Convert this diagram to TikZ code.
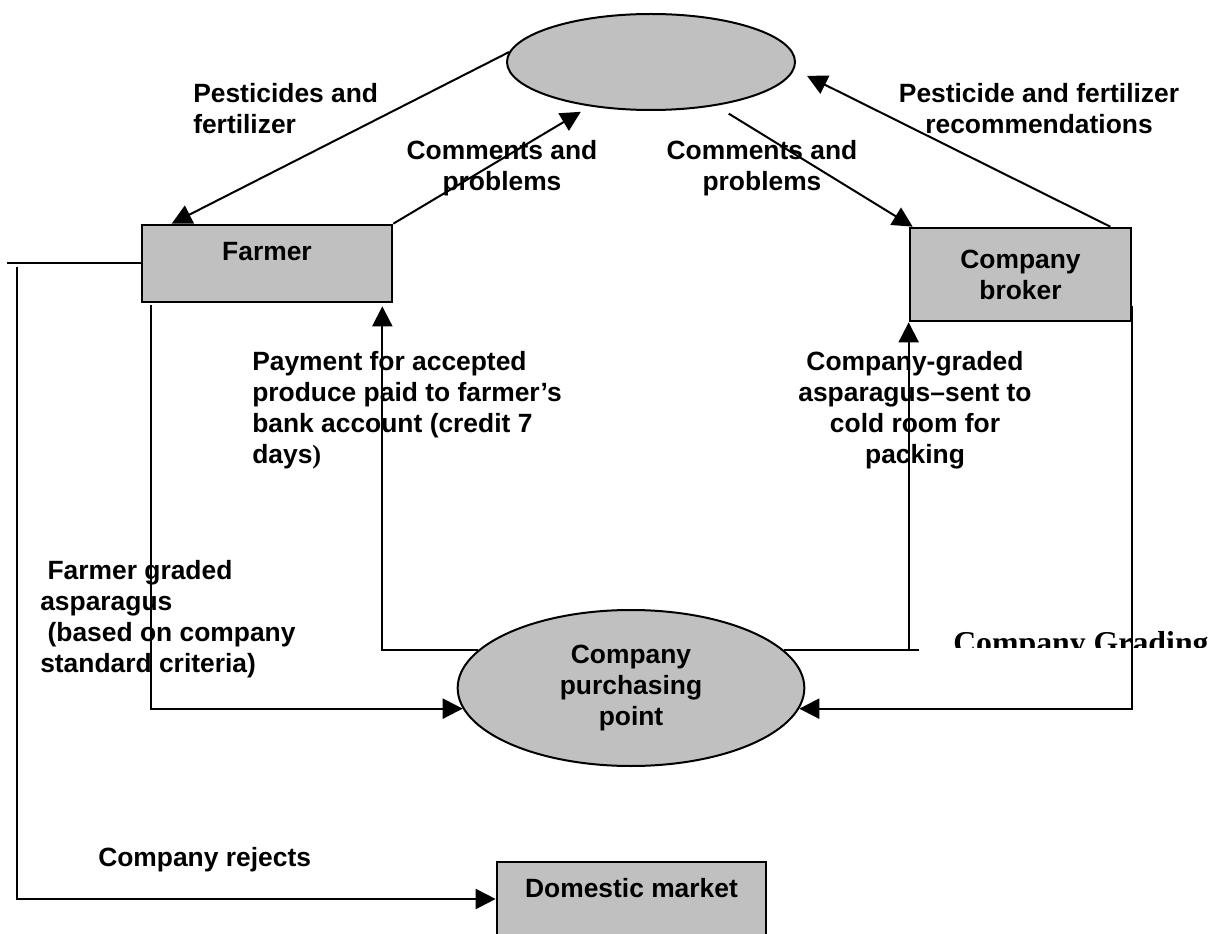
\documentclass[tikz,border=0pt]{standalone}
\usepackage{fontspec}
\setmainfont{Liberation Sans}
\newfontfamily\gradingfont{Liberation Serif}
\usetikzlibrary{arrows.meta,shapes.geometric,calc}
\definecolor{boxgray}{RGB}{192,192,192}

\begin{document}
\begin{tikzpicture}[
  x=0.75pt, y=-0.75pt,
  every node/.style={inner sep=0pt, font=\fontsize{19.8pt}{23.25pt}\selectfont\bfseries},
  flowbox/.style={draw=black, line width=2pt, fill=boxgray, rectangle},
  flowoval/.style={draw=black, line width=1.5pt, fill=boxgray, ellipse},
  flow/.style={draw=black, line width=1.5pt},
  tip/.style={-{Triangle[length=15pt,width=15pt]}},
  lbl/.style={anchor=base west, align=left},
  clbl/.style={anchor=base, align=center},
]
\useasboundingbox (0,0) rectangle (1218,934);

% actors and places
\node[flowoval, minimum width=216pt, minimum height=72pt] (et) at (651,62) {};
\node[flowoval, minimum width=260pt, minimum height=117pt, align=center] (pp) at (631,688)
  {Company\\purchasing\\point};
\node[flowbox, minimum width=187.5pt, text height=27pt, text depth=30.75pt, anchor=base] (fa) at (267,261) {Farmer};
\node[flowbox, minimum width=165.75pt, minimum height=69.75pt, align=center] (br) at (1020.5,274.5) {Company\\broker};
\node[flowbox, minimum width=201.75pt, text height=26.25pt, text depth=29.25pt, anchor=base] (dm) at (631.5,897) {Domestic market};

% loose line ends on the left
\coordinate (lend) at (7,263.5);
\coordinate (rj) at (17,267);

% flows between the top oval and the actors
\draw[flow,tip] (et.176) -- ($(fa.north west)+(31,0)$);
\draw[flow,tip,shorten >=7.9pt] (fa.north east) -- (et.216);
\draw[flow,tip,shorten <=11.25pt] (et.-34.3) -- ($(br.north west)+(4,0)$);
\draw[flow,tip,shorten >=10.7pt] ($(br.north east)+(-22,0)$) -- (et.-3);

% produce and payment flows
\draw[flow] (fa.west) -- (lend);
\draw[flow,tip] (rj) |- (dm.west);
\draw[flow,tip] ($(fa.south west)+(10,2)$) |- (pp.187);
\draw[flow,tip] ($(br.south east)+(0,-16)$) |- (pp.-7);
\draw[flow,tip] (pp.166) -| ($(fa.south east)+(-11,3)$);
\draw[flow,tip] (pp.14) -| (br.south west);
\draw[flow] (pp.14 -| br.south west) -- ++(10,0);

% labels (base anchor sits on the last line)
\node[lbl] (l1) at (193,134) {Pesticides and\\fertilizer};
\node[clbl] (l2) at (502,191) {Comments and\\problems};
\node[clbl] (l3) at (762,191) {Comments and\\problems};
\node[clbl] (l4) at (1039,134) {Pesticide and fertilizer\\recommendations};
\node[lbl] (l5) at (252,463.5) {Payment for accepted\\produce paid to farmer’s\\bank account (credit 7\\days{\gradingfont)}};
\node[clbl] (l6) at (915,463.5) {Company-graded\\asparagus--sent to\\cold room for\\packing};
\node[lbl] (l7) at (40,672) {\hspace*{0.278em}Farmer graded\\asparagus\\\hspace*{0.278em}(based on company\\standard criteria)};
\node[lbl] (l8) at (98,866) {Company rejects};

% partly hidden heading
\begin{scope}
  \clip (940,600) rectangle (1218,647);
  \node[anchor=base west, font=\gradingfont\fontsize{23.85pt}{28pt}\selectfont\bfseries] (cg) at (953,653.5) {Company Grading};
\end{scope}
\end{tikzpicture}
\end{document}
